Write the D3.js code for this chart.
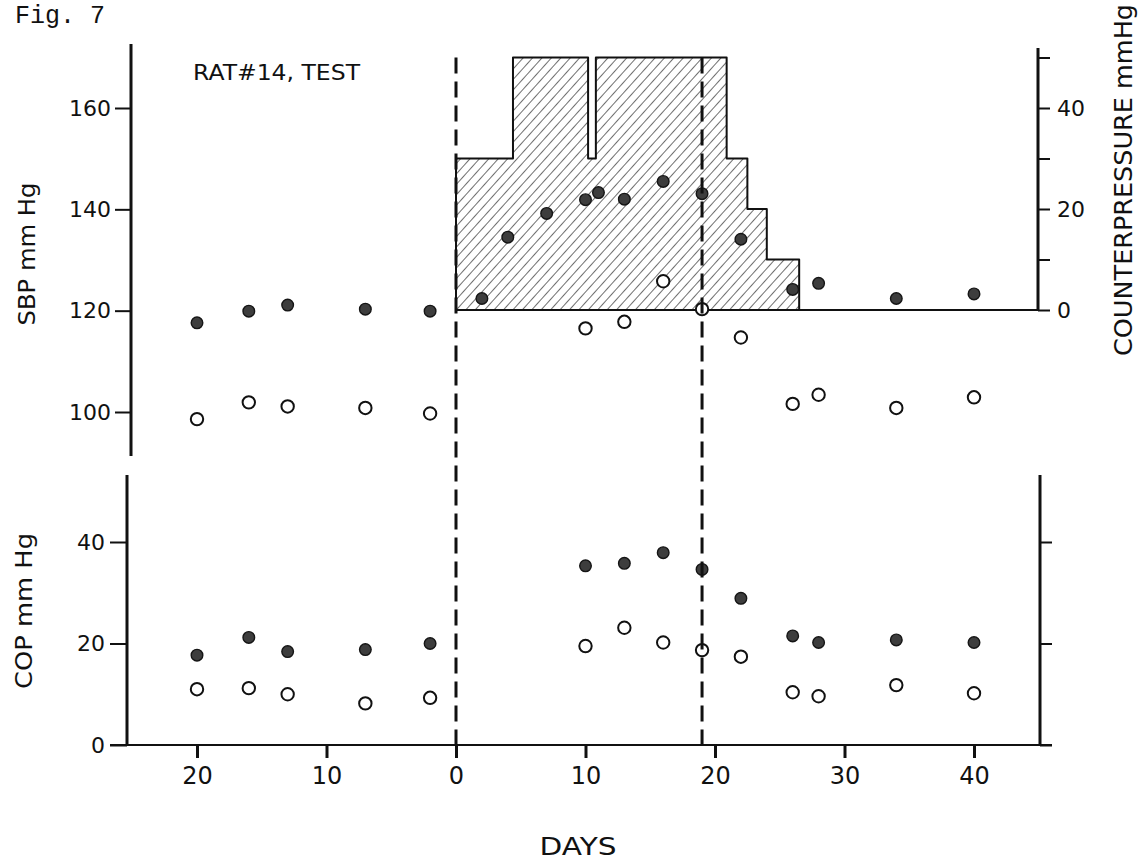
<!DOCTYPE html>
<html>
<head>
<meta charset="utf-8">
<script src="https://cdn.jsdelivr.net/npm/d3@7"></script>
<style>
  html, body { margin: 0; padding: 0; background: #fff; }
  svg { display: block; }
  .lbl { font-family: "DejaVu Sans", sans-serif; fill: #111; }
</style>
</head>
<body>
<svg id="chart" width="1144" height="864"></svg>
<script>
// ---- Data -------------------------------------------------------------
// Days relative to start of counterpressure (negative = days before).
const sbpFilledDays   = [-20, -16, -13, -7, -2, 2, 4, 7, 10, 11, 13, 16, 19, 22, 26, 28, 34, 40];
const sbpFilledValues = [117.6, 119.9, 121.1, 120.3, 119.9, 122.4, 134.5, 139.2, 141.9, 143.3, 142.0, 145.5, 143.1, 134.1, 124.2, 125.4, 122.4, 123.3];

const sbpOpenDays   = [-20, -16, -13, -7, -2, 10, 13, 16, 19, 22, 26, 28, 34, 40];
const sbpOpenValues = [98.6, 101.9, 101.1, 100.8, 99.7, 116.5, 117.8, 125.8, 120.3, 114.7, 101.6, 103.4, 100.8, 102.9];

const copDays         = [-20, -16, -13, -7, -2, 10, 13, 16, 19, 22, 26, 28, 34, 40];
const copFilledValues = [17.7, 21.2, 18.4, 18.8, 20.0, 35.3, 35.8, 37.9, 34.6, 28.9, 21.5, 20.2, 20.7, 20.2];
const copOpenValues   = [11.0, 11.2, 10.0, 8.2, 9.3, 19.5, 23.1, 20.2, 18.7, 17.4, 10.4, 9.6, 11.8, 10.2];

// Counterpressure schedule: level (mmHg) applied from each start day
const cpStartDays = [0, 4.4, 10.2, 10.8, 20.9, 22.5, 24.0];
const cpLevels    = [30, 50, 30, 50, 30, 20, 10];
const cpEndDay    = 26.5;

const markerDays = [0, 19];

const xTicks      = [-20, -10, 0, 10, 20, 30, 40];
const sbpTicks    = [100, 120, 140, 160];
const cpTicks     = [0, 10, 20, 30, 40, 50];
const cpLabelled  = [0, 20, 40];
const copTicks    = [0, 20, 40];

// ---- Scales -----------------------------------------------------------
const x   = d3.scaleLinear().domain([-20, 40]).range([197, 974]);
const ySbp = d3.scaleLinear().domain([100, 160]).range([412, 108]);
const yCp  = d3.scaleLinear().domain([0, 40]).range([310, 108]);
const yCop = d3.scaleLinear().domain([0, 40]).range([745, 542]);

const svg = d3.select("#chart");

// hatch pattern for the counterpressure area
const defs = svg.append("defs");
defs.append("pattern")
  .attr("id", "hatch")
  .attr("width", 7).attr("height", 7)
  .attr("patternUnits", "userSpaceOnUse")
  .attr("patternTransform", "rotate(42)")
  .append("line")
  .attr("x1", 0).attr("y1", 0).attr("x2", 0).attr("y2", 7)
  .attr("stroke", "#222").attr("stroke-width", 1.3);

// ---- Counterpressure area (top panel) ----------------------------------
const cpPoints = [{ d: 0, v: 0 }]
  .concat(cpStartDays.map((d, i) => ({ d, v: cpLevels[i] })))
  .concat([{ d: cpEndDay, v: 0 }]);

const cpLine = d3.line()
  .x(p => x(p.d))
  .y(p => yCp(p.v))
  .curve(d3.curveStepAfter);

svg.append("path")
  .attr("d", cpLine(cpPoints) + "Z")
  .attr("fill", "url(#hatch)")
  .attr("stroke", "#111")
  .attr("stroke-width", 2)
  .attr("stroke-linejoin", "round");

// zero line of the counterpressure scale
svg.append("line")
  .attr("x1", x(0)).attr("x2", 1038)
  .attr("y1", yCp(0)).attr("y2", yCp(0))
  .attr("stroke", "#111").attr("stroke-width", 2);

// ---- Axes -------------------------------------------------------------
function axisLine(x1, y1, x2, y2, w) {
  svg.append("line")
    .attr("x1", x1).attr("y1", y1).attr("x2", x2).attr("y2", y2)
    .attr("stroke", "#111").attr("stroke-width", w);
}
function styleAxis(g, fontSize) {
  g.select(".domain").remove();
  g.selectAll(".tick line").attr("stroke", "#111").attr("stroke-width", 2);
  g.selectAll(".tick text")
    .attr("fill", "#111")
    .style("font-family", "'DejaVu Sans', sans-serif")
    .style("font-size", fontSize + "px");
}

// SBP (top left)
const sbpX = 131;
axisLine(sbpX, 44, sbpX, 456, 3);
svg.append("g")
  .attr("transform", `translate(${sbpX},0)`)
  .call(d3.axisLeft(ySbp).tickValues(sbpTicks).tickSize(16).tickPadding(4).tickSizeOuter(0))
  .call(g => styleAxis(g, 22));

// COP (bottom left)
const copX = 127;
axisLine(copX, 475, copX, 745, 3);
svg.append("g")
  .attr("transform", `translate(${copX},0)`)
  .call(d3.axisLeft(yCop).tickValues(copTicks).tickSize(17).tickPadding(5).tickSizeOuter(0))
  .call(g => styleAxis(g, 22));

// Counterpressure (top right)
const cpX = 1038;
axisLine(cpX, 48, cpX, 311, 3);
svg.append("g")
  .attr("transform", `translate(${cpX},0)`)
  .call(d3.axisRight(yCp).tickValues(cpTicks).tickSize(12).tickPadding(7).tickSizeOuter(0)
    .tickFormat(d => cpLabelled.includes(d) ? d : ""))
  .call(g => styleAxis(g, 22));

// bottom right
const brX = 1040;
axisLine(brX, 475, brX, 745, 3);
svg.append("g")
  .attr("transform", `translate(${brX},0)`)
  .call(d3.axisRight(yCop).tickValues(copTicks).tickSize(12).tickFormat("").tickSizeOuter(0))
  .call(g => styleAxis(g, 22));

// Days axis
axisLine(110, yCop(0), 1052, yCop(0), 2);
svg.append("g")
  .attr("transform", `translate(0,${yCop(0)})`)
  .call(d3.axisBottom(x).tickValues(xTicks).tickSize(13).tickPadding(9).tickSizeOuter(0)
    .tickFormat(d => Math.abs(d)))
  .call(g => styleAxis(g, 24))
  .call(g => g.selectAll(".tick line").attr("stroke-width", 3));

// ---- Points -----------------------------------------------------------
function filledDots(days, values, yScale) {
  svg.append("g").selectAll("circle")
    .data(days.map((d, i) => [d, values[i]]))
    .join("circle")
    .attr("cx", p => x(p[0]))
    .attr("cy", p => yScale(p[1]))
    .attr("r", 5.8)
    .attr("fill", "#3d3d3d")
    .attr("stroke", "#151515")
    .attr("stroke-width", 1.4);
}
function openDots(days, values, yScale) {
  svg.append("g").selectAll("circle")
    .data(days.map((d, i) => [d, values[i]]))
    .join("circle")
    .attr("cx", p => x(p[0]))
    .attr("cy", p => yScale(p[1]))
    .attr("r", 6.2)
    .attr("fill", "#fff")
    .attr("stroke", "#111")
    .attr("stroke-width", 2);
}
filledDots(sbpFilledDays, sbpFilledValues, ySbp);
openDots(sbpOpenDays, sbpOpenValues, ySbp);
filledDots(copDays, copFilledValues, yCop);
openDots(copDays, copOpenValues, yCop);

// ---- Dashed markers at start and end of treatment ------------------------
svg.append("g").selectAll("line")
  .data(markerDays)
  .join("line")
  .attr("x1", d => x(d)).attr("x2", d => x(d))
  .attr("y1", yCp(50)).attr("y2", yCop(0))
  .attr("stroke", "#111")
  .attr("stroke-width", 3)
  .attr("stroke-dasharray", "16,8");

// ---- Text -------------------------------------------------------------
svg.append("text")
  .attr("x", 15).attr("y", 23)
  .style("font-family", "'Liberation Mono', monospace")
  .style("font-size", "25px")
  .attr("fill", "#111")
  .text("Fig. 7");

svg.append("text")
  .attr("class", "lbl")
  .attr("x", 193).attr("y", 80)
  .style("font-size", "22px")
  .attr("textLength", 167).attr("lengthAdjust", "spacingAndGlyphs")
  .text("RAT#14, TEST");

function vLabel(txt, cx, cy, len, size) {
  svg.append("text")
    .attr("class", "lbl")
    .attr("transform", `translate(${cx},${cy}) rotate(-90)`)
    .attr("text-anchor", "middle")
    .attr("dy", "0.36em")
    .style("font-size", size + "px")
    .attr("textLength", len).attr("lengthAdjust", "spacingAndGlyphs")
    .text(txt);
}
vLabel("SBP mm Hg", 27, 254, 143, 23);
vLabel("COP mm Hg", 24, 611, 156, 23);
vLabel("COUNTERPRESSURE mmHg", 1123, 180, 352, 24);

svg.append("text")
  .attr("class", "lbl")
  .attr("x", 578).attr("y", 855)
  .attr("text-anchor", "middle")
  .style("font-size", "25px")
  .attr("textLength", 77).attr("lengthAdjust", "spacingAndGlyphs")
  .text("DAYS");
</script>
</body>
</html>
